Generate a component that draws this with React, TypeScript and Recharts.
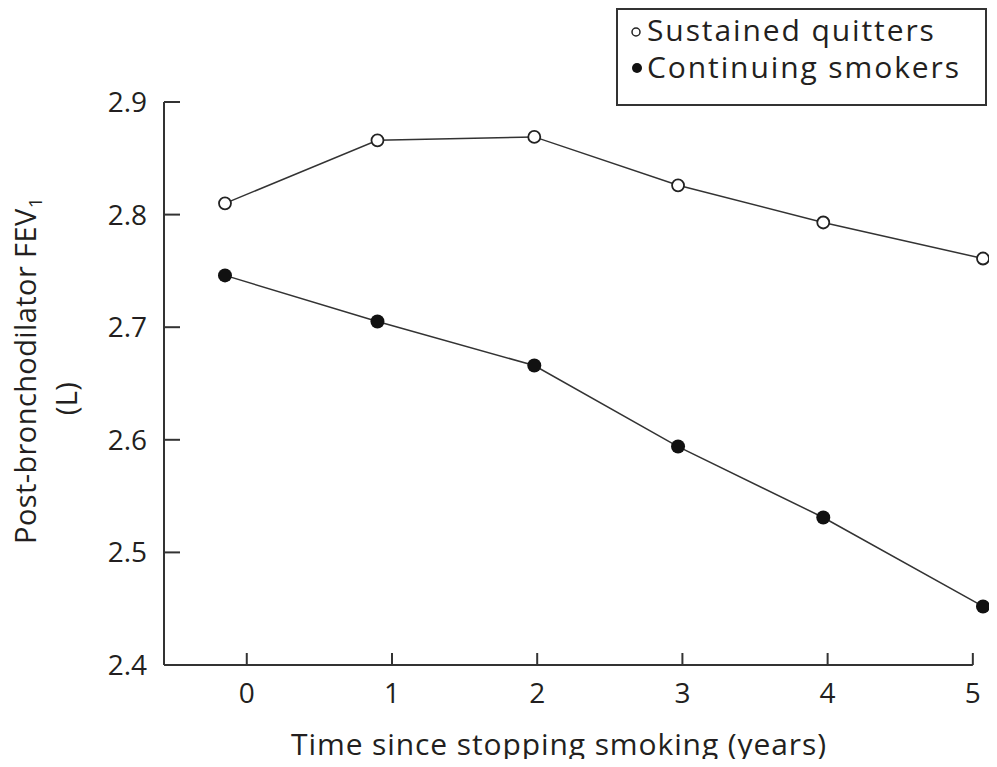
import { LineChart, Line, XAxis, YAxis, Label, ReferenceLine, Customized } from 'recharts';

const years = [-0.15, 0.9, 1.98, 2.97, 3.97, 5.07];
const quitters = [2.81, 2.866, 2.869, 2.826, 2.793, 2.761];
const smokers = [2.746, 2.705, 2.666, 2.594, 2.531, 2.452];
const xTicks = [0, 1, 2, 3, 4, 5];
const yTicks = [2.4, 2.5, 2.6, 2.7, 2.8, 2.9];
const seriesNames = ['Sustained quitters', 'Continuing smokers'];

const data = years.map((t, i) => ({ t, quitters: quitters[i], smokers: smokers[i] }));

const INK = '#231f20';
const FONT = '"Open Sans", sans-serif';

function YTitle(props: any) {
  const vb = props.viewBox;
  const cy = vb.y + vb.height / 2;
  return (
    <g fill={INK} fontFamily={FONT} fontSize={29} letterSpacing={0.4}>
      <text x={36} y={cy - 13} textAnchor="middle" transform={`rotate(-90, 36, ${cy - 13})`}>
        Post-bronchodilator FEV<tspan fontSize={19} dy={6}>1</tspan>
      </text>
      <text x={77} y={cy + 15} textAnchor="middle" transform={`rotate(-90, 77, ${cy + 15})`}>
        (L)
      </text>
    </g>
  );
}

function XTitle(props: any) {
  const vb = props.viewBox;
  return (
    <text
      x={vb.x + 395}
      y={vb.y + 90}
      textAnchor="middle"
      fill={INK}
      fontFamily={FONT}
      fontSize={30}
      letterSpacing={0.9}
    >
      Time since stopping smoking (years)
    </text>
  );
}

// legend box drawn in the svg, top right corner
function LegendBox() {
  const left = 617;
  const top = 9;
  return (
    <g fontFamily={FONT} fontSize={30} fill={INK} letterSpacing={1.9}>
      <rect x={left} y={top} width={369} height={96} fill="#fff" stroke="#333" strokeWidth={2} />
      <path d={`M${left} ${top}H${left + 369}V${top + 96}`} fill="none" stroke="#333" strokeWidth={2} />
      <circle cx={left + 19} cy={top + 23} r={4} fill="#fff" stroke="#222" strokeWidth={1.5} />
      <text x={left + 30} y={top + 32}>{seriesNames[0]}</text>
      <circle cx={left + 20} cy={top + 59} r={5} fill="#111" />
      <text x={left + 30} y={top + 69}>{seriesNames[1]}</text>
    </g>
  );
}

export default function App() {
  return (
    <div style={{ margin: -8, width: 997, height: 767, background: '#fff' }}>
      <LineChart width={997} height={767} data={data} margin={{ top: 102, right: 14, bottom: 0, left: 0 }}>
        <XAxis
          dataKey="t"
          type="number"
          domain={[-0.57, 5.07]}
          ticks={xTicks}
          interval={0}
          height={102}
          axisLine={false}
          tickSize={-12}
          tickMargin={30}
          tickLine={{ stroke: '#333', strokeWidth: 2 }}
          tick={{ fill: INK, fontSize: 28, fontFamily: FONT }}
        >
          <Label content={XTitle} />
        </XAxis>
        <YAxis
          type="number"
          domain={[2.4, 2.9]}
          ticks={yTicks}
          interval={0}
          width={164}
          tickFormatter={(v: number) => v.toFixed(1)}
          tickSize={-16}
          tickMargin={33}
          axisLine={{ stroke: '#333', strokeWidth: 2 }}
          tickLine={{ stroke: '#333', strokeWidth: 2 }}
          tick={{ fill: INK, fontSize: 28, fontFamily: FONT }}
        >
          <Label content={YTitle} />
        </YAxis>
        <ReferenceLine
          segment={[{ x: -0.57, y: 2.4 }, { x: 5, y: 2.4 }]}
          stroke="#333"
          strokeWidth={2}
          ifOverflow="visible"
        />
        <Line
          name={seriesNames[0]}
          dataKey="quitters"
          stroke="#333"
          strokeWidth={1.5}
          dot={{ r: 6, fill: '#fff', stroke: '#222', strokeWidth: 1.8 }}
          activeDot={false}
          isAnimationActive={false}
        />
        <Line
          name={seriesNames[1]}
          dataKey="smokers"
          stroke="#333"
          strokeWidth={1.5}
          dot={{ r: 7, fill: '#111', stroke: '#111', strokeWidth: 0 }}
          activeDot={false}
          isAnimationActive={false}
        />
        <Customized component={LegendBox} />
      </LineChart>
    </div>
  );
}
